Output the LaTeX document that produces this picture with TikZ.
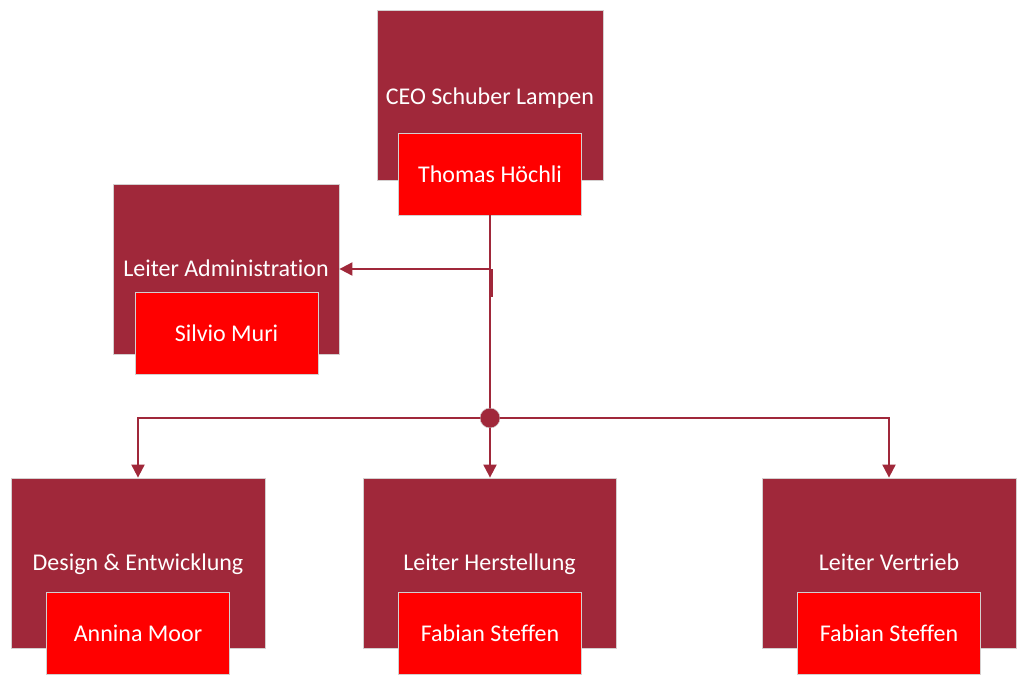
\documentclass[tikz,border=0pt]{standalone}
\usepackage{fontspec}
\setmainfont[Ligatures=NoCommon]{Carlito}
\usetikzlibrary{arrows.meta}
\definecolor{darkbox}{HTML}{A0283A}
\definecolor{namebox}{HTML}{FF0000}
\definecolor{rim}{HTML}{D4CFCF}
\tikzset{
  rolebox/.style={draw=rim, line width=0.8pt, fill=darkbox, text=white, inner sep=0pt,
    text height=14pt, text depth=0pt, font=\fontsize{24}{28}\selectfont},
  personbox/.style={draw=rim, line width=0.8pt, fill=namebox, text=white, inner sep=0pt,
    text height=16pt, text depth=0pt,
    minimum width=183pt, minimum height=82pt, font=\fontsize{24}{28}\selectfont},
  link/.style={draw=darkbox, line width=2pt},
  arr/.style={link, -{Triangle[width=13pt,length=13pt]}},
}
\begin{document}
\begin{tikzpicture}[x=1pt,y=-1pt]
\useasboundingbox (0,0) rectangle (1027,685);
% top
\node[rolebox, text height=18pt, minimum width=226pt, minimum height=170pt] (ceo) at (490,95) {CEO Schuber Lampen};
\node[personbox] (ceoname) at (490,174) {Thomas Höchli};
% admin
\node[rolebox, minimum width=226pt, minimum height=170pt] (adm) at (226,269) {Leiter Administration};
\node[personbox] (admname) at (226.5,333.5) {Silvio Muri};
% bottom
\node[rolebox, minimum width=254pt, minimum height=170pt] (des) at (138,563) {Design \& Entwicklung};
\node[personbox] (desname) at (138,633) {Annina Moor};
\node[rolebox, minimum width=253pt, minimum height=170pt] (her) at (489.5,563) {Leiter Herstellung};
\node[personbox] (hername) at (490,633) {Fabian Steffen};
\node[rolebox, minimum width=254pt, minimum height=170pt] (ver) at (889,563) {Leiter Vertrieb};
\node[personbox] (vername) at (889,633) {Fabian Steffen};
% junction
\node[circle, fill=darkbox, draw=rim, line width=0.5pt, minimum size=20pt, inner sep=0pt] (jn) at (490,418) {};
\coordinate (br) at (490,269);
\coordinate (stubA) at (491.6,269);
\coordinate (stubB) at (491.6,297);
% connectors
\draw[link] (ceoname.south) -- (jn.north);
\draw[arr] (br) -- (adm.east);
\draw[link] (stubA) -- (stubB);
\draw[arr] (jn.west) -| (des.north);
\draw[arr] (jn.south) -- (her.north -| jn.south);
\draw[arr] (jn.east) -| (ver.north);
\end{tikzpicture}
\end{document}
